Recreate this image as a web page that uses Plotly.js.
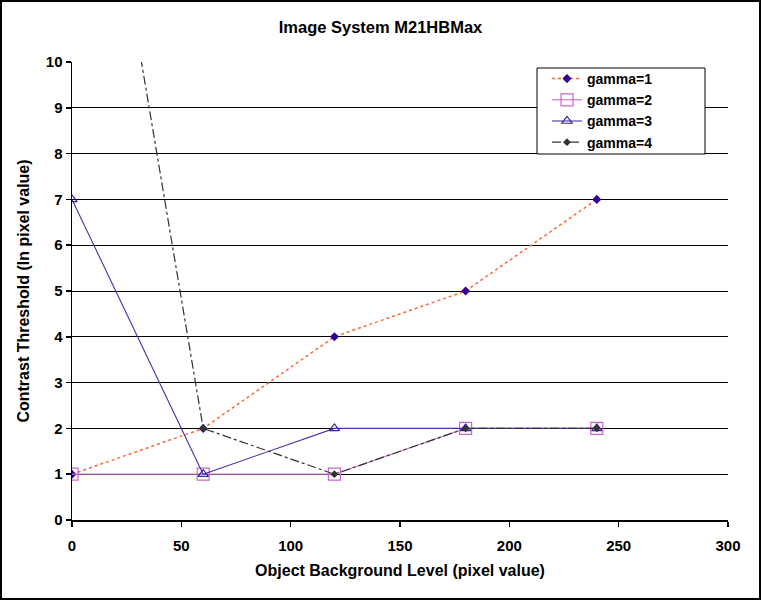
<!DOCTYPE html>
<html>
<head>
<meta charset="utf-8">
<script src="https://cdn.plot.ly/plotly-3.0.1.min.js"></script>
<style>html,body{margin:0;padding:0;background:#fff;}#chart{width:761px;height:600px;}</style>
</head>
<body>
<div id="chart"></div>
<script>
const xLevels = [0, 60, 120, 180, 240];
const gamma1 = [1, 2, 4, 5, 7];
const gamma2 = [1, 1, 1, 2, 2];
const gamma3 = [7, 1, 2, 2, 2];
const gamma4 = [19, 2, 1, 2, 2];
const seriesNames = ['gamma=1', 'gamma=2', 'gamma=3', 'gamma=4'];

const FONT = "Arial, 'Liberation Sans', sans-serif";

const traces = [
  {x: xLevels, y: gamma1, name: seriesNames[0], mode: 'lines+markers',
   line: {color: '#FF6633', width: 1.5, dash: 'dot'},
   marker: {symbol: 'diamond', size: 7, color: '#330099'}},
  {x: xLevels, y: gamma2, name: seriesNames[1], mode: 'lines+markers',
   line: {color: '#CC77CC', width: 1.2},
   marker: {symbol: 'square-open', size: 12, color: '#CC66CC', line: {width: 1.2}}},
  {x: xLevels, y: gamma3, name: seriesNames[2], mode: 'lines+markers',
   line: {color: '#4433AA', width: 1.1},
   marker: {symbol: 'triangle-up-open', size: 9, color: '#3322AA', line: {width: 1.2}}},
  {x: xLevels, y: gamma4, name: seriesNames[3], mode: 'lines+markers',
   line: {color: '#333333', width: 1.2, dash: 'dashdot'},
   marker: {symbol: 'diamond', size: 6, color: '#333333'}}
];

const W = 761, H = 600, L = 72, R = 33, T = 62, B = 80;
const pw = W - L - R, ph = H - T - B;

const tickFont = {family: FONT, size: 15, color: '#000', weight: 'bold'};
const axTitleFont = {family: FONT, size: 16, color: '#000', weight: 'bold'};

const layout = {
  width: W, height: H,
  margin: {l: L, r: R, t: T, b: B},
  paper_bgcolor: '#ffffff', plot_bgcolor: '#ffffff',
  font: {family: FONT, size: 15, color: '#000', weight: 'bold'},
  title: {text: 'Image System M21HBMax', xref: 'container', x: 0.5, xanchor: 'center',
          yref: 'container', y: 1 - 27/H, yanchor: 'middle',
          font: {family: FONT, size: 16.5, color: '#000', weight: 'bold'}},
  xaxis: {range: [0, 300], dtick: 50, tick0: 0, showgrid: false, zeroline: false,
          showline: true, linecolor: '#000', linewidth: 1.5,
          ticks: 'outside', ticklen: 5, tickcolor: '#000', tickwidth: 1.5,
          ticklabelstandoff: 6,
          tickfont: tickFont,
          title: {text: 'Object Background Level (pixel value)', standoff: 12, font: axTitleFont}},
  yaxis: {range: [0, 10], dtick: 1, tick0: 0, showgrid: true, gridcolor: '#000', gridwidth: 1,
          zeroline: false, showline: true, linecolor: '#000', linewidth: 1.5,
          ticks: 'outside', ticklen: 5, tickcolor: '#000', tickwidth: 1.5,
          tickfont: tickFont,
          title: {text: 'Contrast Threshold (In pixel value)', standoff: 12, font: axTitleFont}},
  legend: {x: (547 - L)/pw, y: (H - B - 63)/ph, xanchor: 'left', yanchor: 'top',
           bgcolor: 'rgba(0,0,0,0)', borderwidth: 0,
           font: {family: FONT, size: 14, color: '#000', weight: 'bold'},
           tracegroupgap: 0},
  showlegend: true,
  hovermode: false,
  shapes: [
    {type: 'rect', xref: 'paper', yref: 'paper', layer: 'above',
     x0: (537 - L)/pw, x1: (705 - L)/pw, y0: (H - B - 154)/ph, y1: (H - B - 68)/ph,
     line: {color: '#000', width: 1}, fillcolor: '#ffffff'},
    {type: 'rect', xref: 'paper', yref: 'paper', layer: 'above',
     x0: -(L - 1)/pw, x1: 1 + (R - 1)/pw, y0: -(B - 1)/ph, y1: 1 + (T - 1)/ph,
     line: {color: '#000', width: 2}, fillcolor: 'rgba(0,0,0,0)'}]
};

Plotly.newPlot('chart', traces, layout, {displayModeBar: false, staticPlot: true});
</script>
</body>
</html>
